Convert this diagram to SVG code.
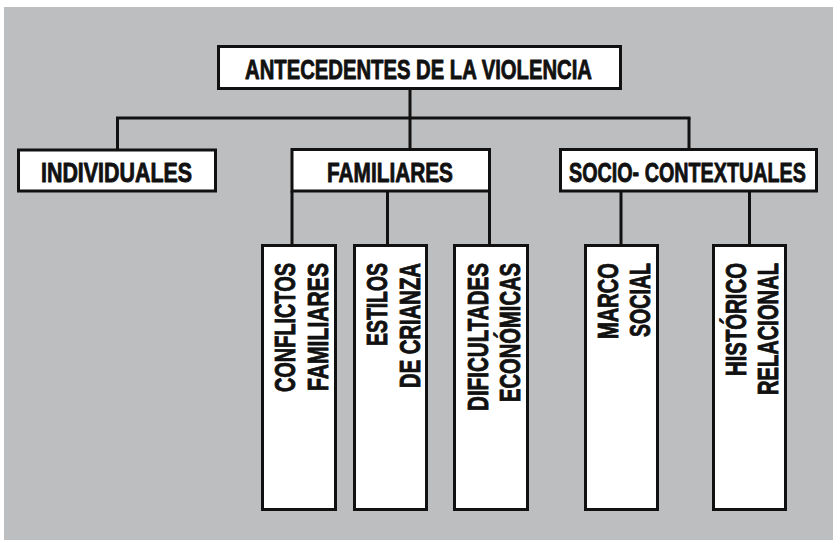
<svg xmlns="http://www.w3.org/2000/svg" width="833" height="540" viewBox="0 0 833 540">
<style>
.box{fill:#ffffff;stroke:#111111;stroke-width:3}
.ln{stroke:#111111;stroke-width:3;fill:none}
.t{font-family:"Liberation Sans",Arial,sans-serif;font-weight:bold;fill:#111111;stroke:#111111;stroke-width:0.9;stroke-linejoin:round}
.h{font-size:28px}
.v{font-size:29px;text-anchor:end}
</style>
<rect x="0" y="0" width="833" height="540" fill="#ffffff"/>
<rect x="4" y="7" width="829" height="533" fill="#bdbec0"/>
<g id="connectors">
<line class="ln" x1="410" y1="89" x2="410" y2="118"/>
<line class="ln" x1="116" y1="118" x2="690.5" y2="118"/>
<line class="ln" x1="117.5" y1="118" x2="117.5" y2="150"/>
<line class="ln" x1="410" y1="118" x2="410" y2="149"/>
<line class="ln" x1="689" y1="118" x2="689" y2="149"/>
<line class="ln" x1="292" y1="191" x2="292" y2="245"/>
<line class="ln" x1="387.5" y1="191" x2="387.5" y2="245"/>
<line class="ln" x1="489.5" y1="191" x2="489.5" y2="245"/>
<line class="ln" x1="621" y1="191" x2="621" y2="245"/>
<line class="ln" x1="749.5" y1="191" x2="749.5" y2="245"/>
</g>
<g id="n-antecedentes">
<rect class="box" x="218.5" y="46.5" width="402" height="42"/>
<text class="t h" x="245" y="79" textLength="347" lengthAdjust="spacingAndGlyphs">ANTECEDENTES DE LA VIOLENCIA</text>
</g>
<g id="n-individuales">
<rect class="box" x="18.5" y="150" width="197" height="41"/>
<text class="t h" x="41" y="182" textLength="151" lengthAdjust="spacingAndGlyphs">INDIVIDUALES</text>
</g>
<g id="n-familiares">
<rect class="box" x="292" y="149.5" width="197.5" height="41.5"/>
<text class="t h" x="327" y="182" textLength="126" lengthAdjust="spacingAndGlyphs">FAMILIARES</text>
</g>
<g id="n-socio">
<rect class="box" x="560.5" y="149.5" width="256" height="41.5"/>
<text class="t h" transform="translate(569,182) scale(0.705,1)" x="0" y="0">SOCIO- CONTEXTUALES</text>
</g>
<g id="n-conflictos">
<rect class="box" x="262.5" y="245.5" width="73" height="264"/>
<text class="t v" transform="translate(295,263) rotate(-90)" textLength="129" lengthAdjust="spacingAndGlyphs">CONFLICTOS</text>
<text class="t v" transform="translate(328,263) rotate(-90)" textLength="128" lengthAdjust="spacingAndGlyphs">FAMILIARES</text>
</g>
<g id="n-estilos">
<rect class="box" x="354.5" y="245.5" width="72" height="264"/>
<text class="t v" transform="translate(387,263) rotate(-90)" textLength="83" lengthAdjust="spacingAndGlyphs">ESTILOS</text>
<text class="t v" transform="translate(420,263) rotate(-90)" textLength="125" lengthAdjust="spacingAndGlyphs">DE CRIANZA</text>
</g>
<g id="n-dificultades">
<rect class="box" x="454.5" y="245.5" width="73" height="264"/>
<text class="t v" transform="translate(488,263) rotate(-90)" textLength="148" lengthAdjust="spacingAndGlyphs">DIFICULTADES</text>
<text class="t v" transform="translate(520,263) rotate(-90)" textLength="139" lengthAdjust="spacingAndGlyphs">ECONÓMICAS</text>
</g>
<g id="n-marco">
<rect class="box" x="585.5" y="245.5" width="72" height="264"/>
<text class="t v" transform="translate(618,263) rotate(-90)" textLength="76" lengthAdjust="spacingAndGlyphs">MARCO</text>
<text class="t v" transform="translate(650,263) rotate(-90)" textLength="74" lengthAdjust="spacingAndGlyphs">SOCIAL</text>
</g>
<g id="n-historico">
<rect class="box" x="713.5" y="245.5" width="72" height="264"/>
<text class="t v" transform="translate(746,263) rotate(-90)" textLength="113" lengthAdjust="spacingAndGlyphs">HISTÓRICO</text>
<text class="t v" transform="translate(778,263) rotate(-90)" textLength="132" lengthAdjust="spacingAndGlyphs">RELACIONAL</text>
</g>
</svg>
